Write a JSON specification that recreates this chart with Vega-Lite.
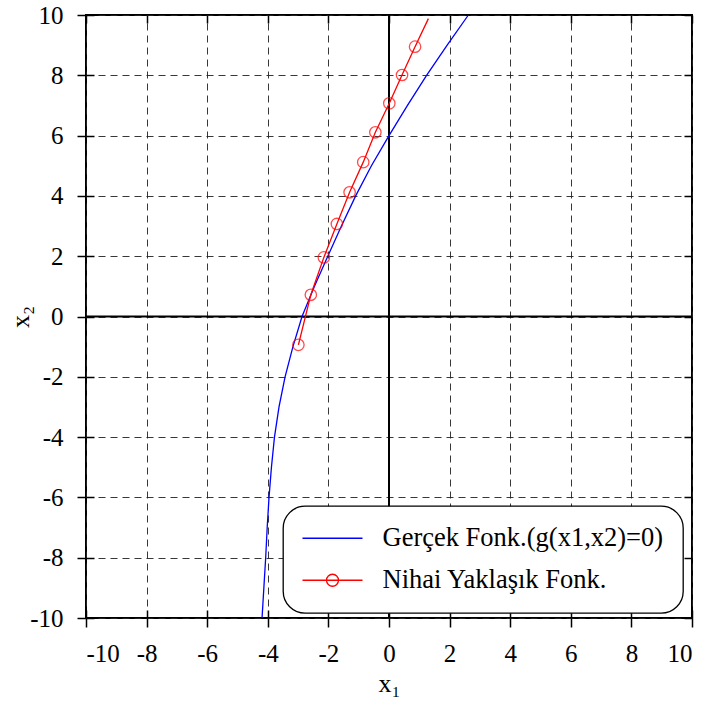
{
  "$schema": "https://vega.github.io/schema/vega-lite/v6.json",
  "width": 606,
  "height": 603,
  "autosize": {"type": "none"},
  "padding": {"left": 86, "top": 15, "right": 16, "bottom": 84},
  "background": "white",
  "config": {
    "view": {"stroke": "black", "strokeWidth": 2},
    "axis": {
      "labelFont": "Liberation Serif",
      "labelFontSize": 25,
      "labelColor": "black",
      "titleFont": "Liberation Serif",
      "titleFontSize": 26,
      "titleFontWeight": "normal",
      "titleColor": "black",
      "tickColor": "black",
      "tickWidth": 1.5,
      "tickSize": 9,
      "labelPadding": 14,
      "domain": false,
      "gridColor": "#222",
      "gridDash": [7, 5],
      "gridWidth": 1,
      "gridOpacity": 0.9
    }
  },
  "datasets": {
    "zero": [{"v": 0}],
    "blue": [
      {"x1": -4.19, "x2": -10}, {"x1": -4.16, "x2": -9.5}, {"x1": -4.13, "x2": -9},
      {"x1": -4.07, "x2": -8}, {"x1": -4.02, "x2": -7}, {"x1": -3.96, "x2": -6},
      {"x1": -3.88, "x2": -5}, {"x1": -3.78, "x2": -4}, {"x1": -3.63, "x2": -3},
      {"x1": -3.43, "x2": -2}, {"x1": -3.17, "x2": -1}, {"x1": -2.87, "x2": 0},
      {"x1": -2.46, "x2": 1}, {"x1": -2.02, "x2": 2}, {"x1": -1.57, "x2": 3},
      {"x1": -1.10, "x2": 4}, {"x1": -0.58, "x2": 5}, {"x1": 0.0, "x2": 6},
      {"x1": 0.61, "x2": 7}, {"x1": 1.24, "x2": 8}, {"x1": 1.92, "x2": 9},
      {"x1": 2.62, "x2": 10}
    ],
    "red": [
      {"x1": -2.99, "x2": -0.94}, {"x1": -2.58, "x2": 0.72}, {"x1": -2.15, "x2": 1.96},
      {"x1": -1.72, "x2": 3.07}, {"x1": -1.30, "x2": 4.12}, {"x1": -0.85, "x2": 5.12},
      {"x1": -0.45, "x2": 6.11}, {"x1": 0.01, "x2": 7.07}, {"x1": 0.43, "x2": 8.01},
      {"x1": 0.86, "x2": 8.95}, {"x1": 1.30, "x2": 9.88}
    ],
    "markers": [
      {"x1": -2.99, "x2": -0.94}, {"x1": -2.58, "x2": 0.72}, {"x1": -2.15, "x2": 1.96},
      {"x1": -1.72, "x2": 3.07}, {"x1": -1.30, "x2": 4.12}, {"x1": -0.85, "x2": 5.12},
      {"x1": -0.45, "x2": 6.11}, {"x1": 0.01, "x2": 7.07}, {"x1": 0.43, "x2": 8.01},
      {"x1": 0.86, "x2": 8.95}
    ]
  },
  "resolve": {"axis": {"x": "independent", "y": "independent"}},
  "layer": [
    {
      "data": {"name": "zero"},
      "mark": {"type": "rule", "color": "black", "strokeWidth": 2},
      "encoding": {
        "x": {
          "field": "v", "type": "quantitative",
          "scale": {"domain": [-10, 10], "nice": false, "zero": false},
          "axis": {
            "orient": "bottom",
            "values": [-10, -8, -6, -4, -2, 0, 2, 4, 6, 8, 10],
            "labelExpr": "'' + datum.value",
            "labelFont": "Liberation Serif",
            "labelFontSize": 25,
            "grid": true,
            "title": "x₁",
            "titleFont": "Liberation Serif",
            "titlePadding": 4
          }
        }
      }
    },
    {
      "data": {"name": "zero"},
      "mark": {"type": "rule", "color": "black", "strokeWidth": 2},
      "encoding": {
        "y": {
          "field": "v", "type": "quantitative",
          "scale": {"domain": [-10, 10], "nice": false, "zero": false},
          "axis": {
            "orient": "left",
            "values": [-10, -8, -6, -4, -2, 0, 2, 4, 6, 8, 10],
            "labelExpr": "'' + datum.value",
            "labelFont": "Liberation Serif",
            "labelFontSize": 25,
            "grid": true,
            "title": "x₂",
            "titleFont": "Liberation Serif",
            "titlePadding": -4
          }
        }
      }
    },
    {
      "data": {"name": "blue"},
      "mark": {"type": "line", "strokeWidth": 1.3},
      "encoding": {
        "x": {
          "field": "x1", "type": "quantitative",
          "scale": {"domain": [-10, 10], "nice": false, "zero": false},
          "axis": {"orient": "top", "values": [-10, -8, -6, -4, -2, 0, 2, 4, 6, 8, 10], "labels": false, "grid": false, "title": null, "tickSize": -8}
        },
        "y": {
          "field": "x2", "type": "quantitative",
          "scale": {"domain": [-10, 10], "nice": false, "zero": false},
          "axis": {"orient": "right", "values": [-10, -8, -6, -4, -2, 0, 2, 4, 6, 8, 10], "labels": false, "grid": false, "title": null, "tickSize": -8}
        },
        "order": {"field": "x2", "type": "quantitative"},
        "color": {
          "datum": "Gerçek Fonk.(g(x1,x2)=0)",
          "type": "nominal",
          "scale": {"domain": ["Gerçek Fonk.(g(x1,x2)=0)", "Nihai Yaklaşık Fonk."], "range": ["#0000ff", "#ff0000"]},
          "legend": {
            "title": null,
            "orient": "none",
            "legendX": 197,
            "legendY": 491,
            "padding": 19,
            "cornerRadius": 22,
            "strokeColor": "black",
            "fillColor": "white",
            "labelFont": "Liberation Serif",
            "labelFontSize": 26.5,
            "labelColor": "black",
            "labelLimit": 400,
            "symbolSize": 400,
            "symbolStrokeWidth": 1.3,
            "labelOffset": 54,
            "rowPadding": 15,
            "encode": {
              "legend": {"update": {"strokeWidth": {"value": 1.3}}},
              "symbols": {
                "update": {
                  "shape": {"signal": "datum.value === 'Nihai Yaklaşık Fonk.' ? 'M-3,0H3M0.6,0A0.6,0.6,0,1,1,-0.6,0A0.6,0.6,0,1,1,0.6,0' : 'M-3,0H3'"},
                  "fill": {"value": "transparent"},
                  "x": {"value": 30.5}
                }
              }
            }
          }
        }
      }
    },
    {
      "data": {"name": "red"},
      "mark": {"type": "line", "strokeWidth": 1.3},
      "encoding": {
        "x": {
          "field": "x1", "type": "quantitative",
          "scale": {"domain": [-10, 10], "nice": false, "zero": false},
          "axis": {"orient": "bottom", "values": [-10, -8, -6, -4, -2, 0, 2, 4, 6, 8, 10], "labels": false, "grid": false, "title": null, "tickSize": -8}
        },
        "y": {
          "field": "x2", "type": "quantitative",
          "scale": {"domain": [-10, 10], "nice": false, "zero": false},
          "axis": {"orient": "left", "values": [-10, -8, -6, -4, -2, 0, 2, 4, 6, 8, 10], "labels": false, "grid": false, "title": null, "tickSize": -8}
        },
        "order": {"field": "x2", "type": "quantitative"},
        "color": {"datum": "Nihai Yaklaşık Fonk.", "type": "nominal"}
      }
    },
    {
      "data": {"name": "markers"},
      "mark": {"type": "point", "shape": "circle", "filled": false, "color": "#ff0000", "size": 130, "strokeWidth": 1.3},
      "encoding": {
        "x": {"field": "x1", "type": "quantitative", "scale": {"domain": [-10, 10], "nice": false, "zero": false}, "axis": null},
        "y": {"field": "x2", "type": "quantitative", "scale": {"domain": [-10, 10], "nice": false, "zero": false}, "axis": null}
      }
    }
  ]
}
